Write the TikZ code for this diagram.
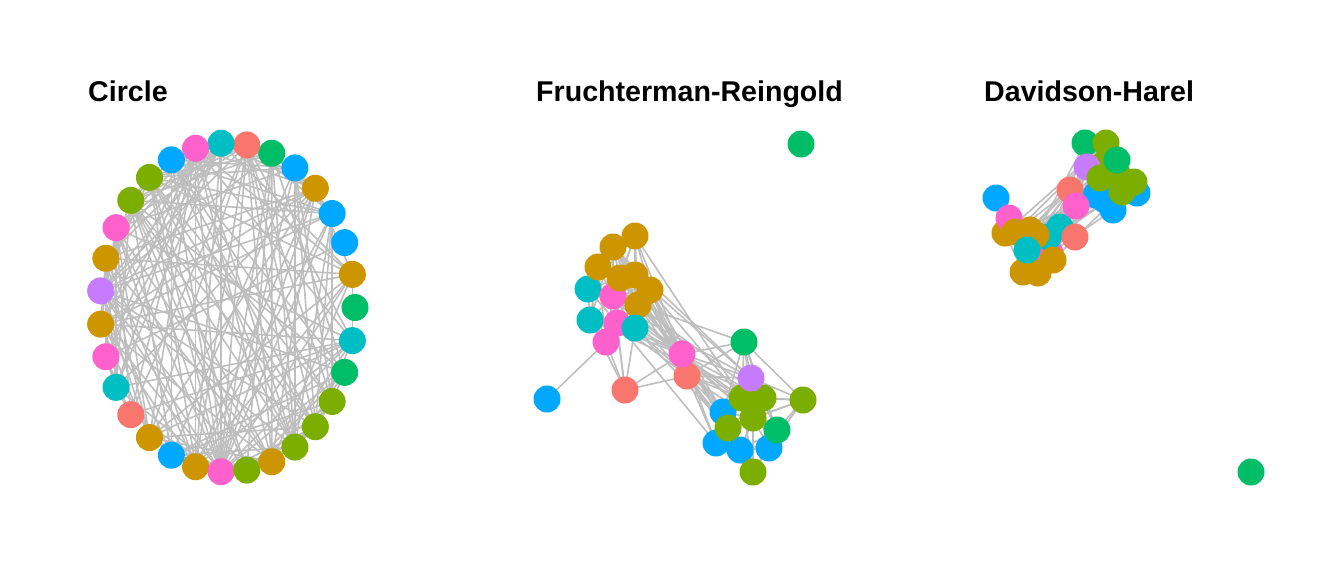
\documentclass[tikz,border=0pt]{standalone}
\usepackage{fontspec}
\setmainfont{Liberation Sans}
\usepackage{tikz}
\usetikzlibrary{backgrounds}
% ggplot hue palette, eight groups
\definecolor{vred}{HTML}{F8766D}
\definecolor{vgold}{HTML}{CD9600}
\definecolor{vlime}{HTML}{7CAE00}
\definecolor{vgreen}{HTML}{00BE67}
\definecolor{vcyan}{HTML}{00BFC4}
\definecolor{vblue}{HTML}{00A9FF}
\definecolor{vpurple}{HTML}{C77CFF}
\definecolor{vpink}{HTML}{FF61CC}
\definecolor{edgegray}{HTML}{BEBEBE}

\begin{document}
\begin{tikzpicture}[x=1pt,y=-1pt]
  % `vertex' is used for every node of the three layouts.
  % `edge' is used for the grey connectors behind them.
  % `title' is used for the panel headings.
  \tikzstyle{vertex} = [circle,inner sep=0pt,minimum size=27pt]
  \tikzstyle{edge} = [draw=edgegray,line width=1.6pt]
  \tikzstyle{title} = [font=\bfseries\fontsize{28.6}{30}\selectfont,anchor=base west,inner sep=0pt]
  \useasboundingbox (0,0) rectangle (1344,576);
  %
  % Panel headings.
  \node[title] (tcircle) at (88,101.5) {Circle};
  \node[title] (tfr) at (536,101.5) {Fruchterman-Reingold};
  \node[title] (tdh) at (984,101.5) {Davidson-Harel};
  %
  % Vertices: index / colour / Fruchterman-Reingold x,y / Davidson-Harel x,y.
  \foreach \i/\col/\fx/\fy/\dx/\dy in {
    1/vgreen/801/144/1251/472,
    2/vgold/635/236/1005/233,
    3/vblue/547/399/996/198,
    4/vblue/723/412/1096/195,
    5/vgold/613/247/1030/230,
    6/vblue/716/443/1113/210,
    7/vgreen/744/342/1085/143,
    8/vred/687/376/1070/190,
    9/vcyan/588/289/1060/227,
    10/vpink/613/296/1040/248,
    11/vblue/740/450/1137/193,
    12/vlime/742/398/1106/143,
    13/vlime/763/398/1103/165,
    14/vpink/617/323/1050/253,
    15/vgold/598/267/1023/272,
    16/vpurple/751/378/1087/167,
    17/vgold/620/278/1038/273,
    18/vpink/606/342/1009/218,
    19/vcyan/590/320/1048/237,
    20/vred/625/390/1075/237,
    21/vgold/635/275/1053/260,
    22/vblue/769/448/1105/200,
    23/vgold/650/290/1015/232,
    24/vpink/682/354/1076/206,
    25/vlime/803/400/1118/175,
    26/vgold/638/305/1036/235,
    27/vlime/753/418/1134/182,
    28/vlime/728/428/1122/192,
    29/vlime/753/472/1100/178,
    30/vgreen/777/430/1117/160,
    31/vcyan/635/328/1027/250}
  {
    \node[vertex,fill=\col] (c\i) at ({227.5+127.5*cos(360*(\i-1)/31)},{307.5-164.5*sin(360*(\i-1)/31)}) {};
    \node[vertex,fill=\col] (f\i) at (\fx,\fy) {};
    \node[vertex,fill=\col] (d\i) at (\dx,\dy) {};
  }
  %
  % Edges, the same list for all three layouts.
  \def\edgelist{2/5,2/15,2/17,2/21,2/23,2/26,5/15,5/17,5/21,5/23,15/17,15/21,
    17/21,17/23,21/23,21/26,23/26,26/5,15/26,
    9/15,9/17,9/10,9/19,19/10,19/14,19/18,31/14,31/26,31/23,10/14,10/17,
    10/21,14/18,14/26,18/19,10/5,31/10,
    2/9,2/10,5/9,5/19,15/10,15/19,17/26,17/31,21/31,23/10,23/14,26/10,9/14,
    9/18,19/31,14/17,18/10,18/15,20/19,20/10,21/14,23/9,15/23,2/31,
    20/18,20/14,20/31,20/24,20/8,
    24/2,24/5,24/17,24/21,24/23,24/26,24/31,24/10,24/14,8/21,8/23,8/26,8/31,8/24,
    24/9,24/19,8/10,8/14,8/5,
    21/16,23/12,26/13,17/4,31/28,10/27,14/6,5/16,2/12,26/7,23/4,21/28,9/16,19/13,
    24/7,24/16,24/12,24/13,24/4,24/28,24/27,8/16,8/12,8/28,8/4,8/6,8/29,8/11,
    24/6,24/11,24/30,8/13,8/7,8/27,
    7/16,7/12,7/13,7/25,16/12,16/13,16/25,16/27,12/13,12/27,12/28,12/4,13/27,
    13/25,13/30,25/30,25/27,27/28,27/30,27/22,27/11,28/4,28/6,28/29,4/6,4/27,
    6/11,6/29,11/29,11/22,22/30,22/29,30/29,12/6,13/22,25/22,16/4,
    7/27,7/30,16/28,16/30,12/25,13/28,13/4,25/29,27/6,27/29,28/11,4/11,4/29,
    6/22,12/29,13/11,30/11,7/4,16/22,25/28,3/18}
  \begin{pgfonlayer}{background}
    \foreach \a/\b in \edgelist {
      \draw[edge] (c\a.center) -- (c\b.center);
      \draw[edge] (f\a.center) -- (f\b.center);
      \draw[edge] (d\a.center) -- (d\b.center);
    }
  \end{pgfonlayer}
  %
\end{tikzpicture}
\end{document}
